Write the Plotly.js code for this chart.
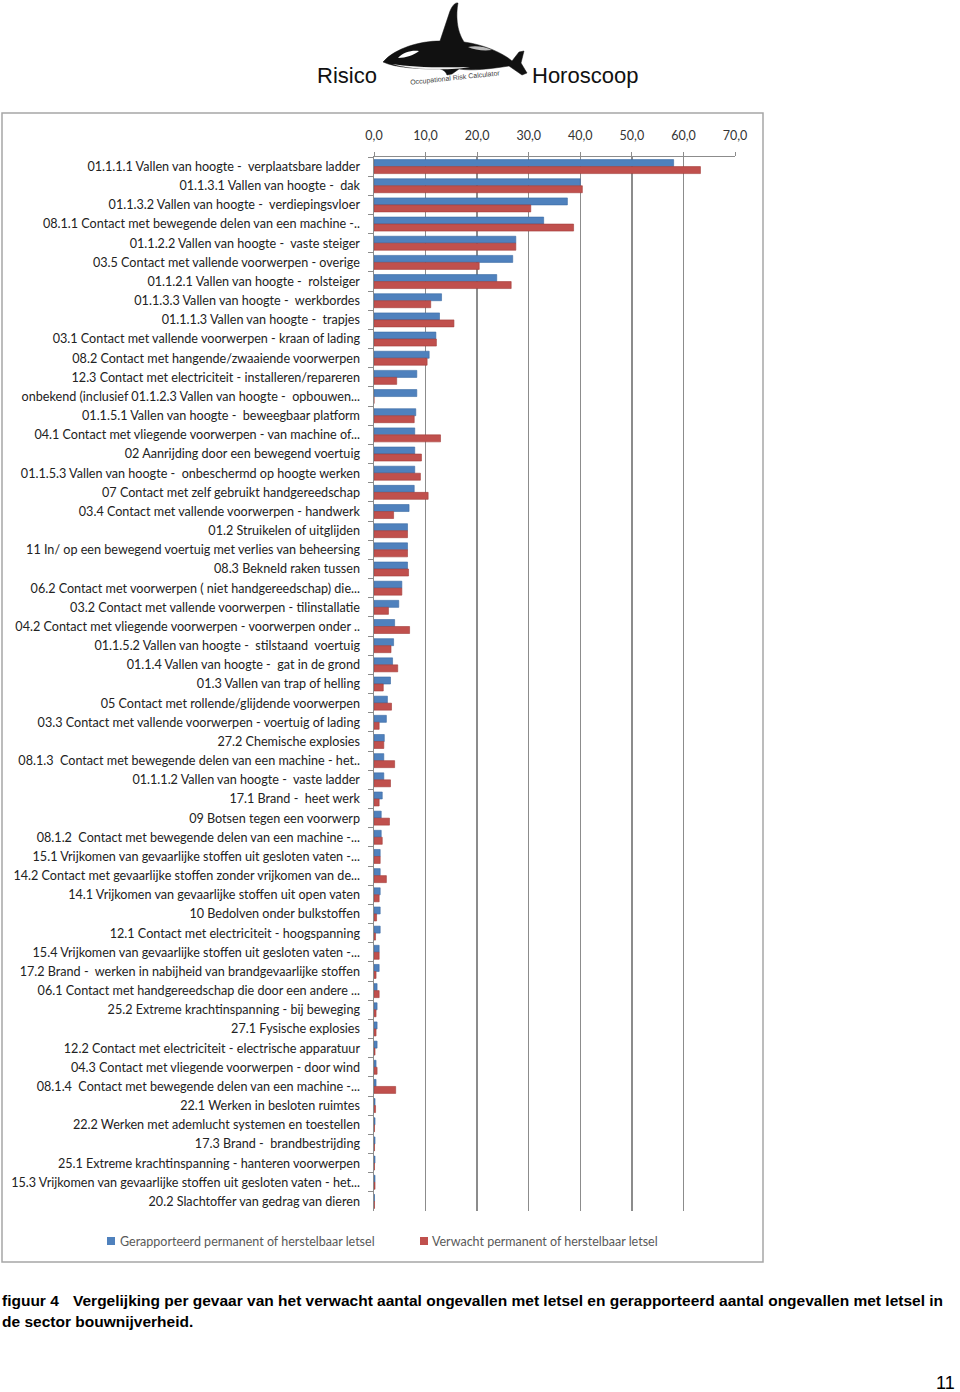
<!DOCTYPE html>
<html><head><meta charset="utf-8">
<script src="https://cdn.plot.ly/plotly-3.0.1.min.js"></script>
<style>html,body{margin:0;padding:0;background:#fff}#chart{width:960px;height:1392px}</style>
</head><body><div id="chart"></div>
<script>
const categories = [
"01.1.1.1 Vallen van hoogte -  verplaatsbare ladder",
"01.1.3.1 Vallen van hoogte -  dak",
"01.1.3.2 Vallen van hoogte -  verdiepingsvloer",
"08.1.1 Contact met bewegende delen van een machine -..",
"01.1.2.2 Vallen van hoogte -  vaste steiger",
"03.5 Contact met vallende voorwerpen - overige",
"01.1.2.1 Vallen van hoogte -  rolsteiger",
"01.1.3.3 Vallen van hoogte -  werkbordes",
"01.1.1.3 Vallen van hoogte -  trapjes",
"03.1 Contact met vallende voorwerpen - kraan of lading",
"08.2 Contact met hangende/zwaaiende voorwerpen",
"12.3 Contact met electriciteit - installeren/repareren",
"onbekend (inclusief 01.1.2.3 Vallen van hoogte -  opbouwen...",
"01.1.5.1 Vallen van hoogte -  beweegbaar platform",
"04.1 Contact met vliegende voorwerpen - van machine of...",
"02 Aanrijding door een bewegend voertuig",
"01.1.5.3 Vallen van hoogte -  onbeschermd op hoogte werken",
"07 Contact met zelf gebruikt handgereedschap",
"03.4 Contact met vallende voorwerpen - handwerk",
"01.2 Struikelen of uitglijden",
"11 In/ op een bewegend voertuig met verlies van beheersing",
"08.3 Bekneld raken tussen",
"06.2 Contact met voorwerpen ( niet handgereedschap) die...",
"03.2 Contact met vallende voorwerpen - tilinstallatie",
"04.2 Contact met vliegende voorwerpen - voorwerpen onder ..",
"01.1.5.2 Vallen van hoogte -  stilstaand  voertuig",
"01.1.4 Vallen van hoogte -  gat in de grond",
"01.3 Vallen van trap of helling",
"05 Contact met rollende/glijdende voorwerpen",
"03.3 Contact met vallende voorwerpen - voertuig of lading",
"27.2 Chemische explosies",
"08.1.3  Contact met bewegende delen van een machine - het..",
"01.1.1.2 Vallen van hoogte -  vaste ladder",
"17.1 Brand -  heet werk",
"09 Botsen tegen een voorwerp",
"08.1.2  Contact met bewegende delen van een machine -...",
"15.1 Vrijkomen van gevaarlijke stoffen uit gesloten vaten -...",
"14.2 Contact met gevaarlijke stoffen zonder vrijkomen van de...",
"14.1 Vrijkomen van gevaarlijke stoffen uit open vaten",
"10 Bedolven onder bulkstoffen",
"12.1 Contact met electriciteit - hoogspanning",
"15.4 Vrijkomen van gevaarlijke stoffen uit gesloten vaten -...",
"17.2 Brand -  werken in nabijheid van brandgevaarlijke stoffen",
"06.1 Contact met handgereedschap die door een andere ...",
"25.2 Extreme krachtinspanning - bij beweging",
"27.1 Fysische explosies",
"12.2 Contact met electriciteit - electrische apparatuur",
"04.3 Contact met vliegende voorwerpen - door wind",
"08.1.4  Contact met bewegende delen van een machine -...",
"22.1 Werken in besloten ruimtes",
"22.2 Werken met ademlucht systemen en toestellen",
"17.3 Brand -  brandbestrijding",
"25.1 Extreme krachtinspanning - hanteren voorwerpen",
"15.3 Vrijkomen van gevaarlijke stoffen uit gesloten vaten - het...",
"20.2 Slachtoffer van gedrag van dieren"
];
const reported = [58.1,40.0,37.5,32.9,27.5,26.9,23.8,13.1,12.7,12.0,
  10.7,8.3,8.3,8.1,7.9,7.9,7.9,7.8,6.8,6.5,
  6.5,6.5,5.4,4.8,4.0,3.8,3.6,3.2,2.6,2.4,
  2.0,1.9,1.9,1.6,1.4,1.4,1.2,1.2,1.2,1.2,
  1.2,1.0,1.0,0.6,0.6,0.6,0.6,0.4,0.4,0.2,
  0.2,0.2,0.2,0.2,0.1];
const expected = [63.3,40.4,30.4,38.7,27.5,20.4,26.6,11.0,15.5,12.1,
  10.3,4.4,0,7.8,12.9,9.2,9.0,10.5,3.8,6.5,
  6.5,6.7,5.4,2.8,6.9,3.3,4.6,1.8,3.4,1.0,
  1.9,4.0,3.2,1.0,3.0,1.6,1.2,2.4,1.0,0.5,
  0.3,1.0,0.4,1.0,0.4,0.4,0.2,0.6,4.2,0.3,
  0.1,0.1,0.1,0.2,0.1];
const seriesNames = ["Gerapporteerd permanent of herstelbaar letsel","Verwacht permanent of herstelbaar letsel"];
const seriesColors = ["#4F81BD","#C0504D"];
const xTicks = [0,10,20,30,40,50,60,70];

const W = 960, H = 1392;
const px = x => x / W;
const py = y => 1 - y / H;
const toPaper = p => p.replace(/(-?\d+\.?\d*),(-?\d+\.?\d*)/g, (m, a, b) => (a / W).toFixed(5) + "," + (1 - b / H).toFixed(5));

const traces = [
  {type:"bar", orientation:"h", name:seriesNames[0], y:categories, x:reported,
   marker:{color:seriesColors[0], line:{color:"#3A6AA3", width:0.6}}, hoverinfo:"skip"},
  {type:"bar", orientation:"h", name:seriesNames[1], y:categories, x:expected,
   marker:{color:seriesColors[1], line:{color:"#A23C39", width:0.6}}, hoverinfo:"skip"}
];

const orcaBody = "M383,62 C395,48 420,41 440,41 L449,14 C451,7 455,2 458,3 C456,14 456,30 464,42 C486,45 504,54 512,61 L519,52 L524,51 L521,63 L527,73 L522,75 L509,66 C490,69 472,71 459,69 L452,74 L447,75 C446,72 444,70 440,69 C420,69 396,68 383,62 Z";
const orcaEye = "M398,58 C403,52 412,50 419,51 C414,55 406,58 398,58 Z";
const orcaSaddle = "M468,47 C476,45 486,47 492,50 C484,51 474,50 468,47 Z";
const orcaBelly = "M392,64 C410,67 440,68 470,67 C450,71 410,70 392,64 Z";

const legendFont = {family:"Lato, sans-serif", size:12.5, color:"#595959"};
const captionFont = {family:"Liberation Sans, Arial, sans-serif", size:15.5, color:"#000"};

const layout = {
  width: W, height: H,
  margin:{l:0,r:0,t:0,b:0},
  paper_bgcolor:"#fff", plot_bgcolor:"rgba(0,0,0,0)",
  separators:",.",
  barmode:"group", bargap:0.27, bargroupgap:0,
  showlegend:false,
  font:{family:"Lato, sans-serif"},
  xaxis:{side:"top", range:[0,70], tickvals:xTicks, tickformat:".1f",
    domain:[px(374), px(735)], showgrid:true, gridcolor:"#8c8c8c", gridwidth:1.5,
    showline:true, linecolor:"#8c8c8c", linewidth:1.5, ticks:"outside", ticklen:4, tickcolor:"#8c8c8c",
    tickfont:{family:"Lato, sans-serif", size:12.5, color:"#333"}, zeroline:false, fixedrange:true,
    ticklabelstandoff:7},
  yaxis:{type:"category", categoryorder:"array", categoryarray:categories, autorange:"reversed",
    domain:[py(1211), py(157)], tickson:"boundaries", ticks:"outside", ticklen:5, tickcolor:"#8c8c8c",
    showline:true, linecolor:"#8c8c8c", linewidth:1.5, showgrid:false, zeroline:false,
    tickfont:{family:"Lato, sans-serif", size:12.6, color:"#222"}, fixedrange:true, ticklabelstandoff:10},
  shapes:[
    {type:"rect", xref:"paper", yref:"paper", x0:px(2), x1:px(763), y0:py(1262), y1:py(113),
     line:{color:"#a6a6a6", width:1.5}, fillcolor:"rgba(0,0,0,0)", layer:"below"},
    {type:"rect", xref:"paper", yref:"paper", x0:px(107), x1:px(115), y0:py(1245), y1:py(1237),
     line:{width:0}, fillcolor:seriesColors[0]},
    {type:"rect", xref:"paper", yref:"paper", x0:px(420), x1:px(428), y0:py(1245), y1:py(1237),
     line:{width:0}, fillcolor:seriesColors[1]},
    {type:"path", xref:"paper", yref:"paper", path:toPaper(orcaBody), fillcolor:"#111", line:{color:"#111", width:0.5}},
    {type:"path", xref:"paper", yref:"paper", path:toPaper(orcaEye), fillcolor:"#fff", line:{width:0}},
    {type:"path", xref:"paper", yref:"paper", path:toPaper(orcaSaddle), fillcolor:"#bbb", line:{width:0}},
    {type:"path", xref:"paper", yref:"paper", path:toPaper(orcaBelly), fillcolor:"#eee", line:{width:0}}
  ],
  annotations:[
    {xref:"paper", yref:"paper", x:px(118), y:py(1241), xanchor:"left", yanchor:"middle", showarrow:false,
     text:seriesNames[0], font:legendFont},
    {xref:"paper", yref:"paper", x:px(430), y:py(1241), xanchor:"left", yanchor:"middle", showarrow:false,
     text:seriesNames[1], font:legendFont},
    {xref:"paper", yref:"paper", x:px(315), y:py(75), xanchor:"left", yanchor:"middle", showarrow:false,
     text:"Risico", font:{family:"Liberation Sans, Arial, sans-serif", size:22, color:"#111"}},
    {xref:"paper", yref:"paper", x:px(530), y:py(75), xanchor:"left", yanchor:"middle", showarrow:false,
     text:"Horoscoop", font:{family:"Liberation Sans, Arial, sans-serif", size:22, color:"#111"}},
    {xref:"paper", yref:"paper", x:px(455), y:py(78), xanchor:"center", yanchor:"middle", showarrow:false,
     text:"Occupational Risk Calculator", textangle:-6, font:{family:"Liberation Sans, Arial, sans-serif", size:7, color:"#444"}},
    {xref:"paper", yref:"paper", x:px(0), y:py(1300), xanchor:"left", yanchor:"middle", showarrow:false,
     text:"<b>figuur 4</b>", font:captionFont},
    {xref:"paper", yref:"paper", x:px(71), y:py(1300), xanchor:"left", yanchor:"middle", showarrow:false,
     text:"<b>Vergelijking per gevaar van het verwacht aantal ongevallen met letsel en gerapporteerd aantal ongevallen met letsel in</b>",
     font:captionFont},
    {xref:"paper", yref:"paper", x:px(0), y:py(1321), xanchor:"left", yanchor:"middle", showarrow:false,
     text:"<b>de sector bouwnijverheid.</b>", font:captionFont},
    {xref:"paper", yref:"paper", x:px(957), y:py(1383), xanchor:"right", yanchor:"middle", showarrow:false,
     text:"11", font:{family:"Liberation Sans, Arial, sans-serif", size:18, color:"#000"}}
  ]
};

Plotly.newPlot("chart", traces, layout, {staticPlot:true, displayModeBar:false});
</script>
</body></html>
